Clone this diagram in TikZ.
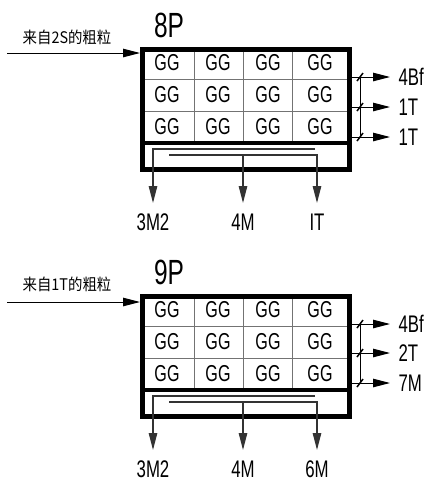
\documentclass[tikz,border=0pt]{standalone}
\usepackage{fontspec}
\setmainfont{Liberation Sans}[FakeStretch=0.7]
\newfontfamily\cjk{Noto Sans CJK SC}[FakeStretch=0.9]
\usetikzlibrary{arrows.meta}

\tikzset{
  tank/.style={draw, line width=4.5pt, minimum width=207, minimum height=120, anchor=north west, inner sep=0pt},
  cell/.style={font=\fontsize{23}{23}\selectfont, inner sep=0pt},
  outlbl/.style={font=\fontsize{24}{24}\selectfont, inner sep=0pt},
  title/.style={font=\fontsize{35}{35}\selectfont, inner sep=0pt},
  feed/.style={font=\cjk\fontsize{16}{16}\selectfont, inner sep=0pt},
  gridline/.style={draw=black!55, line width=1pt},
  pipe/.style={draw=black!80, line width=1.2pt},
}

\begin{document}
\begin{tikzpicture}[x=1pt, y=-1pt, >={Triangle[length=17pt,width=8.5pt]}, line width=1pt]
  \useasboundingbox (0,0) rectangle (430,483);

  % 8P
  \begin{scope}[shift={(140,47)}]
    \node[title] (t8) at (29,-22) {8P};
    \foreach \x in {54,103,152} \draw[gridline] (\x,0) -- (\x,96);
    \foreach \y in {32,64} \draw[gridline] (0,\y) -- (207,\y);
    \draw[line width=4pt] (0,96) -- (207,96);
    \node[tank] (p8) at (0,0) {};
    \foreach \r/\y in {1/16,2/48,3/80}
      \foreach \c/\x in {1/27,2/78,3/128,4/180}
        \node[cell] (g8-\r\c) at (\x,\y) {GG};
    % feed
    \coordinate (in8) at (-133,6);
    \node[feed] (s8) at (-73,-9.5) {来自2S的粗粒};
    \draw[->] (in8) -- (in8 -| p8.west);
    % side outlets
    \draw (220,30) -- (220,90);
    \foreach \i/\y/\t in {1/30/4Bf, 2/60/1T, 3/90/1T} {
      \coordinate (o8-\i) at (p8.east |- 0,\y);
      \node[outlbl, anchor=west] (l8-\i) at (258,\y) {\t};
      \draw[->, shorten >=8pt] (o8-\i) -- (l8-\i.west);
      \draw[line width=1.5pt] (217,\y+4) -- (223,\y-4);
    }
    % bottom outlets
    \node[outlbl, anchor=north] (d8-1) at (13,166) {3M2};
    \node[outlbl, anchor=north] (d8-2) at (103,166) {4M};
    \node[outlbl, anchor=north] (d8-3) at (177,166) {IT};
    \draw[pipe, ->, shorten >=10pt] (175,102) -- (13,102) -- (d8-1.north);
    \draw[pipe, ->, shorten >=10pt] (29,108) -| (d8-3.north);
    \draw[pipe, ->, shorten >=10pt] (103,108) -- (d8-2.north);
  \end{scope}

  % 9P
  \begin{scope}[shift={(140,294)}]
    \node[title] (t9) at (29,-22) {9P};
    \foreach \x in {54,103,152} \draw[gridline] (\x,0) -- (\x,96);
    \foreach \y in {32,64} \draw[gridline] (0,\y) -- (207,\y);
    \draw[line width=4pt] (0,96) -- (207,96);
    \node[tank] (p9) at (0,0) {};
    \foreach \r/\y in {1/16,2/48,3/80}
      \foreach \c/\x in {1/27,2/78,3/128,4/180}
        \node[cell] (g9-\r\c) at (\x,\y) {GG};
    % feed
    \coordinate (in9) at (-133,8);
    \node[feed] (s9) at (-73,-9.5) {来自1T的粗粒};
    \draw[->] (in9) -- (in9 -| p9.west);
    % side outlets
    \draw (220,30) -- (220,89);
    \foreach \i/\y/\t in {1/30/4Bf, 2/59/2T, 3/89/7M} {
      \coordinate (o9-\i) at (p9.east |- 0,\y);
      \node[outlbl, anchor=west] (l9-\i) at (258,\y) {\t};
      \draw[->, shorten >=8pt] (o9-\i) -- (l9-\i.west);
      \draw[line width=1.5pt] (217,\y+4) -- (223,\y-4);
    }
    % bottom outlets
    \node[outlbl, anchor=north] (d9-1) at (13,166) {3M2};
    \node[outlbl, anchor=north] (d9-2) at (103,166) {4M};
    \node[outlbl, anchor=north] (d9-3) at (177,166) {6M};
    \draw[pipe, ->, shorten >=10pt] (175,102) -- (13,102) -- (d9-1.north);
    \draw[pipe, ->, shorten >=10pt] (29,108) -| (d9-3.north);
    \draw[pipe, ->, shorten >=10pt] (103,108) -- (d9-2.north);
  \end{scope}
\end{tikzpicture}
\end{document}
